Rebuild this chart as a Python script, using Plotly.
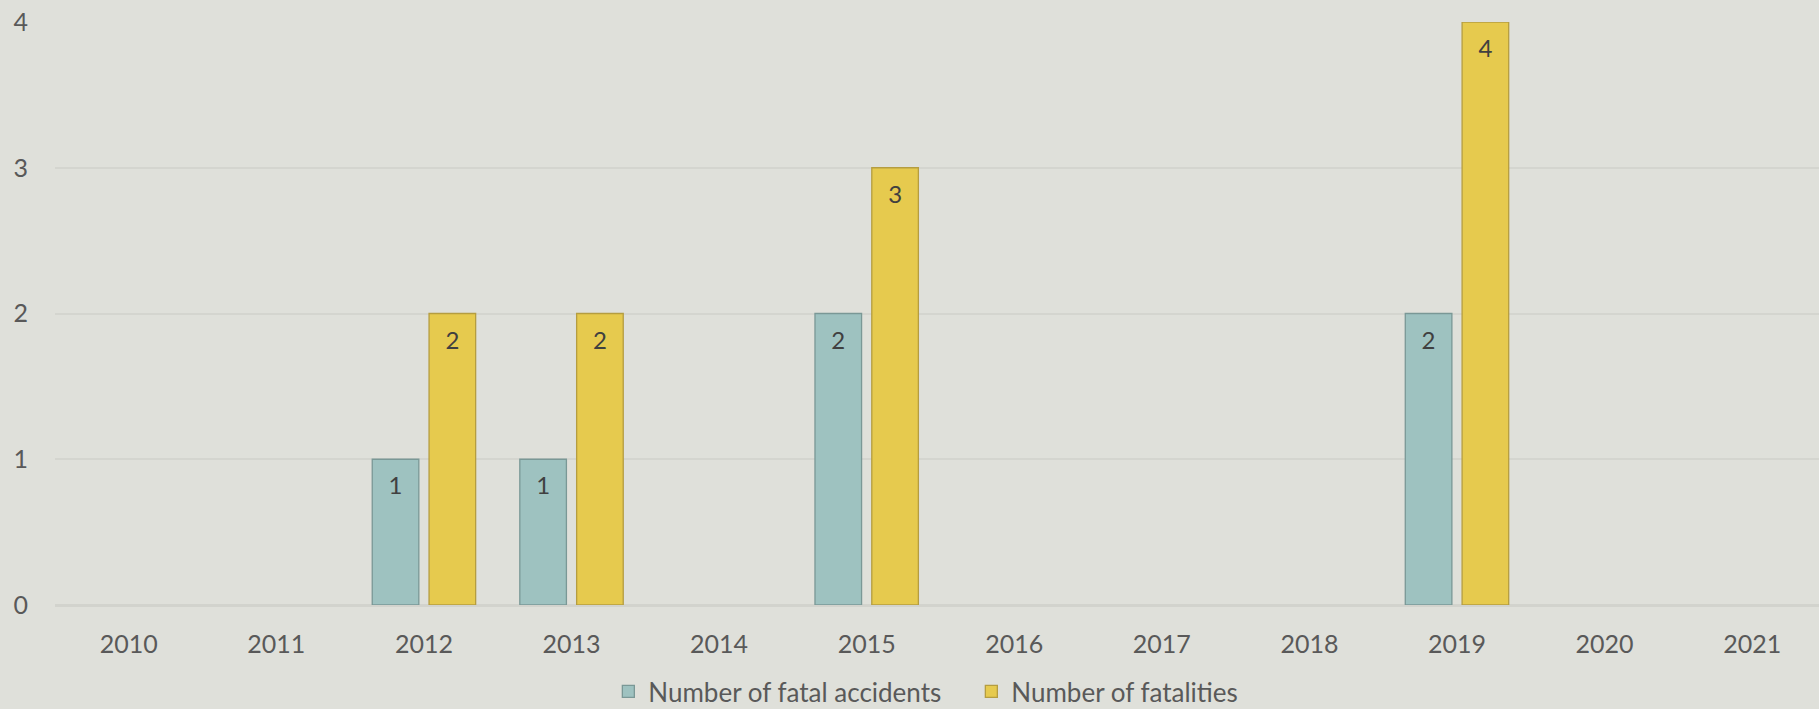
import plotly.graph_objects as go

years = ["2010", "2011", "2012", "2013", "2014", "2015", "2016", "2017", "2018", "2019", "2020", "2021"]
fatal_accidents = [0, 0, 1, 1, 0, 2, 0, 0, 0, 2, 0, 0]
fatalities = [0, 0, 2, 2, 0, 3, 0, 0, 0, 4, 0, 0]
y_ticks = [0, 1, 2, 3, 4]

series = [
    ("Number of fatal accidents", fatal_accidents, "#9ec2c0", "#7a9896", "a"),
    ("Number of fatalities", fatalities, "#e6ca4e", "#b59d40", "b"),
]

FONT = "Lato, 'Open Sans', sans-serif"
BG = "#dfe0da"

fig = go.Figure()
for name, vals, col, line, grp in series:
    shown = [v if v else None for v in vals]
    fig.add_trace(go.Bar(
        x=years, y=shown, name=name, offsetgroup=grp,
        marker=dict(color=col, line=dict(color=line, width=1.3)),
        hoverinfo="skip",
    ))
for name, vals, col, line, grp in series:
    ys = [v - 0.2 if v else None for v in vals]
    fig.add_trace(go.Scatter(
        x=years, y=ys, mode="text", offsetgroup=grp,
        text=[str(v) if v else "" for v in vals],
        textposition="middle center",
        textfont=dict(family=FONT, size=24, color="#404040"),
        showlegend=False, hoverinfo="skip",
    ))

fig.update_layout(
    width=1819, height=709,
    paper_bgcolor=BG, plot_bgcolor=BG,
    margin=dict(l=55, r=0, t=22, b=104, autoexpand=False),
    barmode="group", scattermode="group",
    bargap=0.23, bargroupgap=0.18,
    font=dict(family=FONT, size=25, color="#595959"),
    legend=dict(
        orientation="h", xref="container", yref="container",
        x=0.534, xanchor="center", y=1 - 668 / 709, yanchor="top",
        font=dict(size=26, color="#595959"),
        itemwidth=30, traceorder="normal", entrywidth=318,
    ),
    xaxis=dict(
        range=[-0.5, 11.453], showgrid=False, ticks="", automargin=False,
        ticklabelstandoff=22, showline=False, zeroline=False,
    ),
    yaxis=dict(
        range=[0, 4], tickvals=y_ticks, showgrid=True, automargin=False,
        gridcolor="#d4d5cf", gridwidth=1.5, zeroline=True,
        zerolinecolor="#d2d3cd", zerolinewidth=2.5,
        ticks="", ticklabelstandoff=26, showline=False,
    ),
)

fig.write_html(
    "out.html",
    config={"displayModeBar": False},
    post_script="document.body.style.margin='0';document.body.style.overflow='hidden';"
                "document.body.style.background='" + BG + "';",
)
